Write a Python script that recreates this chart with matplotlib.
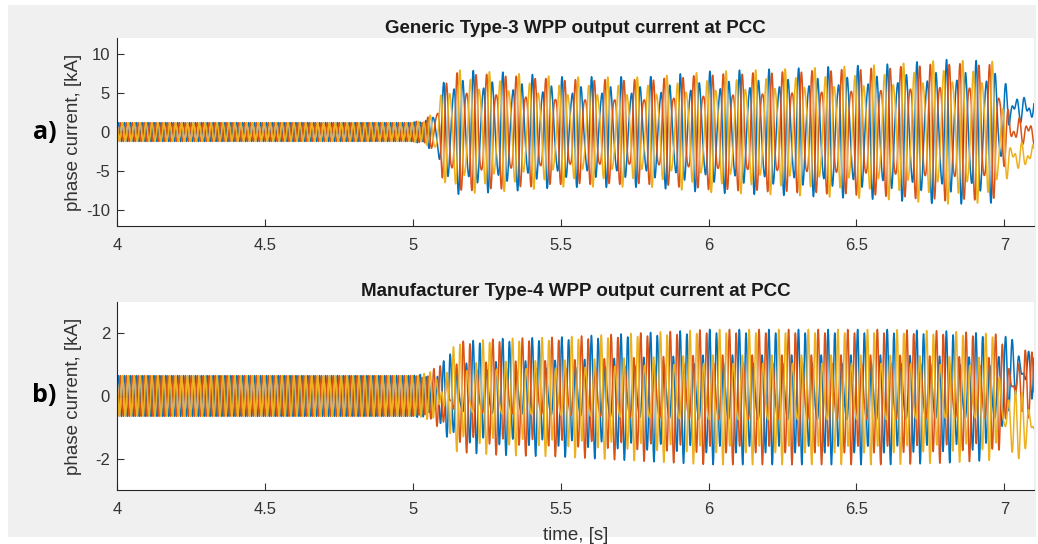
import numpy as np
import matplotlib
matplotlib.use('Agg')
import matplotlib.pyplot as plt
from matplotlib.patches import Rectangle

# MATLAB default line colours for the three phases
colors = ['#0072BD', '#D95319', '#EDB120']
theta = 2 * np.pi / 3

# time axis of the simulation record
t = np.arange(4.0, 7.1, 1e-4)

# --- a) Generic Type-3 WPP (values read from the picture) ---
a_f50 = 50.0           # grid frequency, Hz
a_f_sub = 30.0         # oscillation that builds up after the event, Hz
a_sub_seq = 1          # +1: same phase order as the 50 Hz part, -1: reversed
a_env_t   = [4.00, 5.00, 5.04, 5.07, 5.10, 5.15, 5.30, 5.50, 5.80, 6.00, 6.30, 6.60, 6.80, 6.97, 7.02, 7.10]
a_env_50  = [1.20, 1.20, 1.50, 0.60, 1.20, 1.50, 1.50, 1.50, 1.50, 1.60, 1.60, 1.70, 1.80, 1.80, 0.90, 0.80]
a_env_sub = [0.00, 0.00, 0.30, 1.80, 5.00, 6.50, 6.20, 5.60, 5.60, 6.20, 6.60, 7.00, 7.50, 7.30, 1.00, 0.90]
a_off_t   = [4.00, 6.97, 7.02, 7.10]
a_off     = [[0.0, 0.0, 3.0, 3.0],     # blue
             [0.0, 0.0, 0.2, 0.0],     # red
             [0.0, 0.0, -3.2, -3.0]]   # yellow

# --- b) Manufacturer Type-4 WPP ---
b_f50 = 50.0
b_f_sub = 40.0
b_sub_seq = -1
b_env_t   = [4.00, 5.00, 5.05, 5.10, 5.15, 5.30, 5.50, 6.00, 6.30, 6.60, 6.80, 6.97, 7.02, 7.10]
b_env_50  = [0.65, 0.65, 0.65, 0.60, 0.70, 0.70, 0.70, 0.75, 0.75, 0.75, 0.75, 0.70, 0.50, 0.50]
b_env_sub = [0.00, 0.00, 0.10, 0.50, 1.10, 1.20, 1.25, 1.45, 1.45, 1.45, 1.40, 1.35, 0.60, 0.60]
b_off_t   = [4.00, 6.97, 7.02, 7.10]
b_off     = [[0.0, 0.0, 0.8, 0.8],
             [0.0, 0.0, 0.4, 0.4],
             [0.0, 0.0, -0.9, -0.9]]

a_ylim = (-12, 12)
a_yticks = [-10, -5, 0, 5, 10]
b_ylim = (-3, 3)
b_yticks = [-2, 0, 2]
xticks = [4, 4.5, 5, 5.5, 6, 6.5, 7]
xtick_labels = ['4', '4.5', '5', '5.5', '6', '6.5', '7']


def phase_currents(env_t, env50, envsub, f50, fsub, seq, off_t, off):
    A50 = np.interp(t, env_t, env50)
    Asub = np.interp(t, env_t, envsub)
    out = []
    for k in range(3):
        i = (A50 * np.sin(2 * np.pi * f50 * t - k * theta)
             + Asub * np.sin(2 * np.pi * fsub * t - seq * k * theta + 0.8)
             + np.interp(t, off_t, off[k]))
        out.append(i)
    return out


plt.rcParams['font.family'] = ['Liberation Sans', 'DejaVu Sans']
plt.rcParams['axes.unicode_minus'] = False
fig = plt.figure(figsize=(10.38, 5.44), dpi=100, facecolor='white')
fig.patches.append(Rectangle((0.008, 0.012), 0.99, 0.978, transform=fig.transFigure,
                             facecolor='#f0f0f0', edgecolor='none', zorder=-5))

ax1 = fig.add_axes([0.1127, 0.5846, 0.8834, 0.3454])
ax2 = fig.add_axes([0.1127, 0.0993, 0.8834, 0.3456])

panels = [
    (ax1, phase_currents(a_env_t, a_env_50, a_env_sub, a_f50, a_f_sub, a_sub_seq, a_off_t, a_off),
     a_ylim, a_yticks, 'Generic Type-3 WPP output current at PCC', 'a)'),
    (ax2, phase_currents(b_env_t, b_env_50, b_env_sub, b_f50, b_f_sub, b_sub_seq, b_off_t, b_off),
     b_ylim, b_yticks, 'Manufacturer Type-4 WPP output current at PCC', 'b)'),
]

for ax, currents, ylim, yticks, title, tag in panels:
    for k in range(3):
        ax.plot(t, currents[k], color=colors[k], lw=1.1)
    ax.set_xlim(4, 7.1)
    ax.set_ylim(*ylim)
    ax.set_xticks(xticks)
    ax.set_xticklabels(xtick_labels)
    ax.set_yticks(yticks)
    ax.spines['top'].set_visible(False)
    ax.spines['right'].set_visible(False)
    for s in ['left', 'bottom']:
        ax.spines[s].set_color('#262626')
        ax.spines[s].set_linewidth(0.8)
    ax.tick_params(direction='in', length=5, labelsize=12, colors='#333333')
    ax.tick_params(axis='x', pad=9)
    ax.tick_params(axis='y', pad=5)
    ax.set_ylabel('phase current, [kA]', fontsize=13.5, color='#333333')
    ax.yaxis.set_label_coords(-0.038, 0.5)
    ax.set_title(title, fontsize=13.5, fontweight='bold', color='#1a1a1a', pad=4)
    ax.text(-0.079, 0.5, tag, transform=ax.transAxes, fontsize=18, fontweight='bold',
            ha='center', va='center', family=['Open Sans', 'DejaVu Sans'])

ax2.set_xlabel('time, [s]', fontsize=13.5, color='#333333')
ax2.xaxis.set_label_coords(0.5, -0.195)

fig.savefig('out.png', dpi=100, facecolor=fig.get_facecolor())
